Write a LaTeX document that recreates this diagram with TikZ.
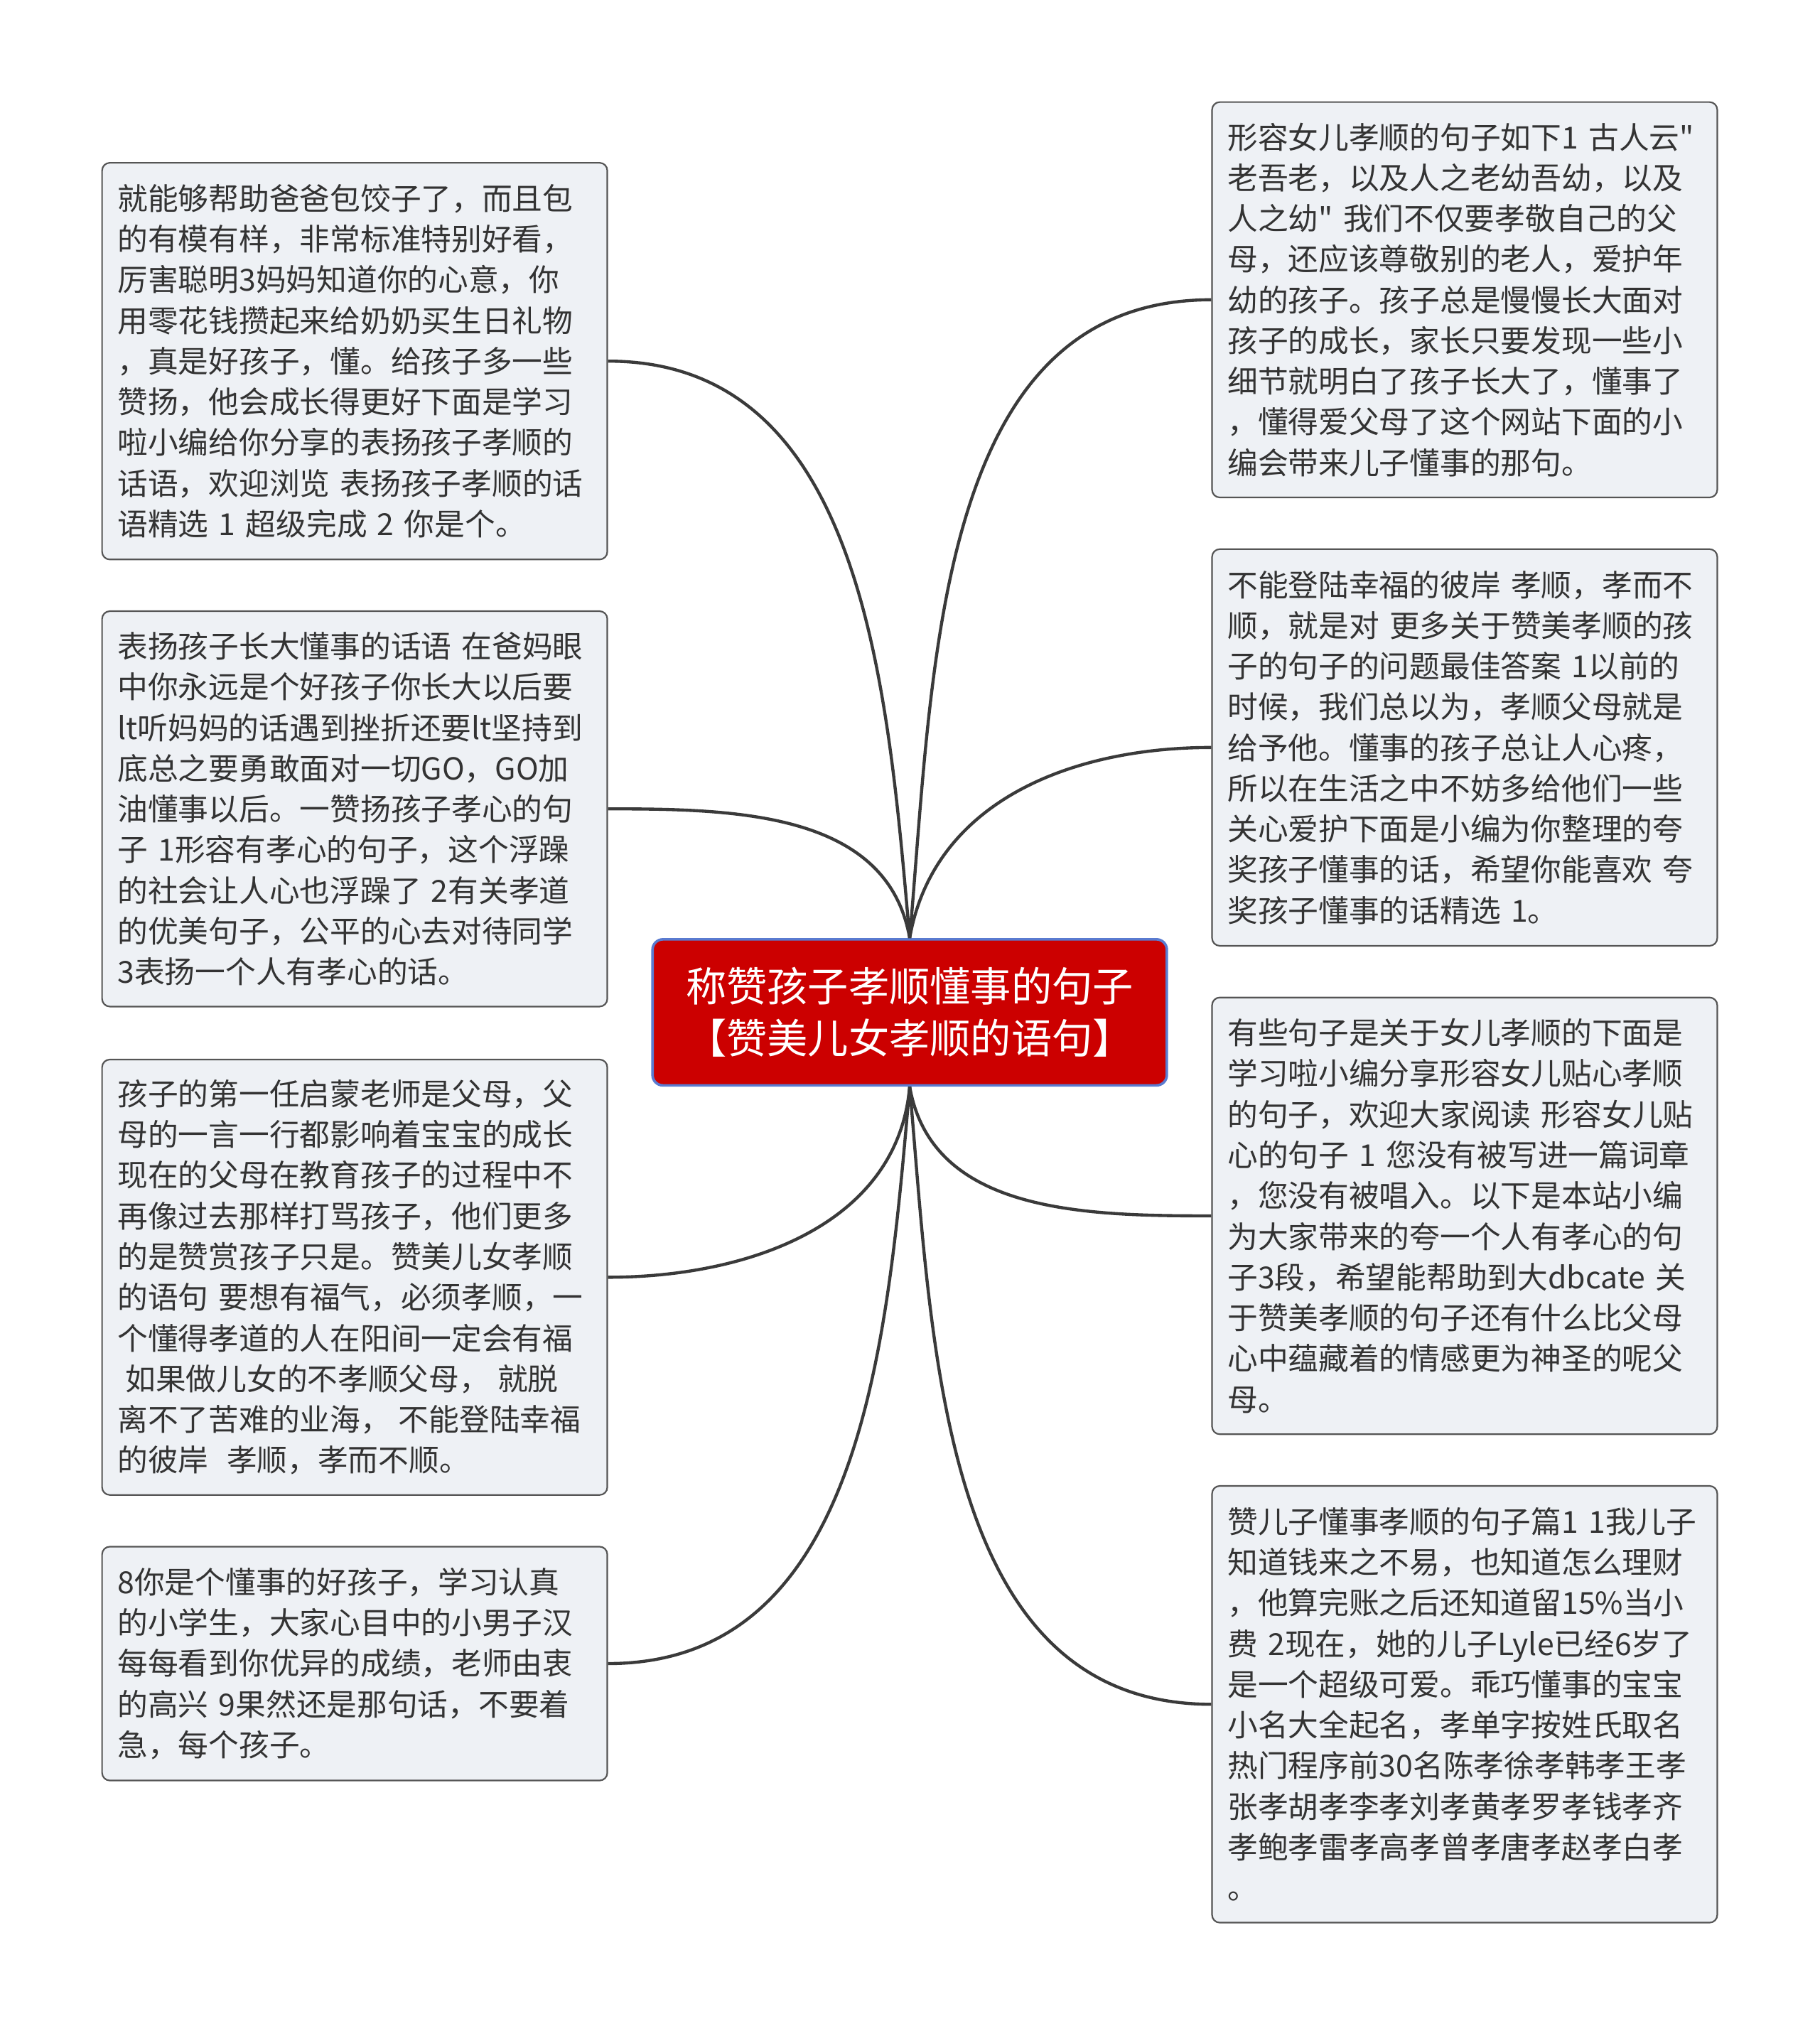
\documentclass[tikz,border=0pt]{standalone}
\usepackage{fontspec}
\newfontfamily\cjk{Noto Sans CJK SC}
\usepackage{xcolor}

\definecolor{leaffill}{HTML}{EEF1F5}
\definecolor{leafline}{HTML}{555555}
\definecolor{rootred}{HTML}{CC0000}
\definecolor{rootline}{HTML}{5A7BD0}
\definecolor{inkgrey}{HTML}{333333}
\definecolor{linkgrey}{HTML}{3A3A3A}

\begin{document}
\begin{tikzpicture}[x=0.5pt,y=-0.5pt,
    leaf/.style={draw=leafline, line width=0.6pt, fill=leaffill,
      rounded corners=3pt, text=inkgrey, align=left,
      font=\cjk\fontsize{11.75pt}{15.75pt}\selectfont,
      text width=183.5pt, inner xsep=6pt, inner ysep=0pt,
      minimum width=195.5pt},
    rootbox/.style={draw=rootline, line width=1pt, fill=rootred,
      rounded corners=4pt, text=white, align=center,
      font=\cjk\fontsize{15.75pt}{20pt}\selectfont,
      minimum width=199pt, minimum height=56.5pt},
    link/.style={draw=linkgrey, line width=1.2pt}]

    \fill[white] (0,0) rectangle (1408,1568);
    \useasboundingbox (0,0) rectangle (1408,1568);

    % centre
    \node[rootbox] (root) at (704,783.5) {称赞孩子孝顺懂事的句子\\【赞美儿女孝顺的语句】};

    % left side
    \node[leaf, minimum height=153.5pt] (l1) at (274.5,279.5) {%
就能够帮助爸爸包饺子了，而且包\\
的有模有样，非常标准特别好看，\\
厉害聪明3妈妈知道你的心意，你\\
用零花钱攒起来给奶奶买生日礼物\\
，真是好孩子，懂。给孩子多一些\\
赞扬，他会成长得更好下面是学习\\
啦小编给你分享的表扬孩子孝顺的\\
话语，欢迎浏览 表扬孩子孝顺的话\\
语精选 1 超级完成 2 你是个。};
    \node[leaf, minimum height=153pt] (l2) at (274.5,626) {%
表扬孩子长大懂事的话语 在爸妈眼\\
中你永远是个好孩子你长大以后要\\
lt听妈妈的话遇到挫折还要lt坚持到\\
底总之要勇敢面对一切GO，GO加\\
油懂事以后。一赞扬孩子孝心的句\\
子 1形容有孝心的句子，这个浮躁\\
的社会让人心也浮躁了 2有关孝道\\
的优美句子，公平的心去对待同学\\
3表扬一个人有孝心的话。};
    \node[leaf, minimum height=168.5pt] (l3) at (274.5,988.5) {%
孩子的第一任启蒙老师是父母，父\\
母的一言一行都影响着宝宝的成长\\
现在的父母在教育孩子的过程中不\\
再像过去那样打骂孩子，他们更多\\
的是赞赏孩子只是。赞美儿女孝顺\\
的语句 要想有福气，必须孝顺，一\\
个懂得孝道的人在阳间一定会有福\\
\hspace*{3pt}如果做儿女的不孝顺父母，\hspace{3pt}就脱\\
离不了苦难的业海，\hspace{3pt}不能登陆幸福\\
的彼岸\hspace{7pt}孝顺，孝而不顺。};
    \node[leaf, minimum height=90.5pt] (l4) at (274.5,1287.5) {%
8你是个懂事的好孩子，学习认真\\
的小学生，大家心目中的小男子汉\\
每每看到你优异的成绩，老师由衷\\
的高兴 9果然还是那句话，不要着\\
急，每个孩子。};

    % right side
    \node[leaf, minimum height=153pt] (r1) at (1133.5,232) {%
形容女儿孝顺的句子如下1 古人云"\\
老吾老，以及人之老幼吾幼，以及\\
人之幼" 我们不仅要孝敬自己的父\\
母，还应该尊敬别的老人，爱护年\\
幼的孩子。孩子总是慢慢长大面对\\
孩子的成长，家长只要发现一些小\\
细节就明白了孩子长大了，懂事了\\
，懂得爱父母了这个网站下面的小\\
编会带来儿子懂事的那句。};
    \node[leaf, minimum height=153.5pt] (r2) at (1133.5,578.5) {%
不能登陆幸福的彼岸 孝顺，孝而不\\
顺，就是对 更多关于赞美孝顺的孩\\
子的句子的问题最佳答案 1以前的\\
时候，我们总以为，孝顺父母就是\\
给予他。懂事的孩子总让人心疼，\\
所以在生活之中不妨多给他们一些\\
关心爱护下面是小编为你整理的夸\\
奖孩子懂事的话，希望你能喜欢 夸\\
奖孩子懂事的话精选 1。};
    \node[leaf, minimum height=169pt] (r3) at (1133.5,941) {%
有些句子是关于女儿孝顺的下面是\\
学习啦小编分享形容女儿贴心孝顺\\
的句子，欢迎大家阅读 形容女儿贴\\
心的句子 1 您没有被写进一篇词章\\
，您没有被唱入。以下是本站小编\\
为大家带来的夸一个人有孝心的句\\
子3段，希望能帮助到大dbcate 关\\
于赞美孝顺的句子还有什么比父母\\
心中蕴藏着的情感更为神圣的呢父\\
母。};
    \node[leaf, minimum height=169pt] (r4) at (1133.5,1319) {%
赞儿子懂事孝顺的句子篇1 1我儿子\\
知道钱来之不易，也知道怎么理财\\
，他算完账之后还知道留15\%当小\\
费 2现在，她的儿子Lyle已经6岁了\\
是一个超级可爱。乖巧懂事的宝宝\\
小名大全起名，孝单字按姓氏取名\\
热门程序前30名陈孝徐孝韩孝王孝\\
张孝胡孝李孝刘孝黄孝罗孝钱孝齐\\
孝鲍孝雷孝高孝曾孝唐孝赵孝白孝\\
。};

    % connectors
    \draw[link] (l1.east) to[out=0,in=95] (root.north);
    \draw[link] (l2.east) to[out=0,in=100] (root.north);
    \draw[link] (l3.east) to[out=0,in=-95] (root.south);
    \draw[link] (l4.east) to[out=0,in=-95] (root.south);
    \draw[link] (r1.west) to[out=180,in=85] (root.north);
    \draw[link] (r2.west) to[out=180,in=80] (root.north);
    \draw[link] (r3.west) to[out=180,in=-80] (root.south);
    \draw[link] (r4.west) to[out=180,in=-85] (root.south);
\end{tikzpicture}
\end{document}
